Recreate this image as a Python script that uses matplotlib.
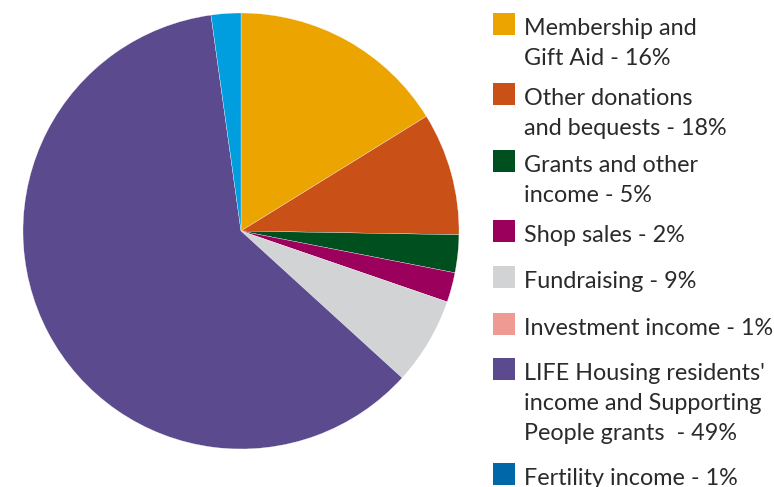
import matplotlib
import matplotlib.pyplot as plt
from matplotlib.patches import Rectangle

matplotlib.rcParams["font.family"] = ["Lato", "DejaVu Sans"]

W, H = 774, 487

# Data
labels = [
    "Membership and\nGift Aid - 16%",
    "Other donations\nand bequests - 18%",
    "Grants and other\nincome - 5%",
    "Shop sales - 2%",
    "Fundraising - 9%",
    "Investment income - 1%",
    "LIFE Housing residents'\nincome and Supporting\nPeople grants  - 49%",
    "Fertility income - 1%",
]
# slice sizes as drawn (they do not follow the label percentages)
slice_values = [16.2, 9.1, 2.8, 2.2, 6.5, 0.0, 61.1, 2.2]
slice_colors = ["#eba400", "#c95118", "#00501f", "#9a005c", "#d1d3d4",
                "#ef9b93", "#5b4a8e", "#009ddf"]
legend_colors = ["#eba400", "#c95118", "#00501f", "#9a005c", "#d1d3d4",
                 "#ef9b93", "#5b4a8e", "#0068a9"]
legend_tops = [13, 83, 150, 220, 266, 313, 358, 463]

fig = plt.figure(figsize=(W / 100, H / 100), dpi=100)

# Pie
cx, cy, r = 241, 231, 218
ax = fig.add_axes([(cx - r) / W, 1 - (cy + r) / H, 2 * r / W, 2 * r / H])
vals = [v for v in slice_values if v > 0]
cols = [c for v, c in zip(slice_values, slice_colors) if v > 0]
ax.pie(vals, colors=cols, startangle=90, counterclock=False, radius=1,
       wedgeprops={"edgecolor": "white", "linewidth": 0.2})
ax.set_xlim(-1, 1)
ax.set_ylim(-1, 1)
ax.set_aspect("equal")
ax.axis("off")

# Legend drawn by hand
for lab, col, top in zip(labels, legend_colors, legend_tops):
    fig.patches.append(Rectangle((493 / W, 1 - (top + 22) / H), 22 / W, 22 / H,
                                 transform=fig.transFigure, facecolor=col,
                                 edgecolor="none"))
    for i, line in enumerate(lab.split("\n")):
        fig.text(524 / W, 1 - (top + 22 + 30 * i) / H, line, fontsize=16.8,
                 color="#2a2a2a", va="baseline", ha="left")

fig.savefig("out.png", dpi=100)
